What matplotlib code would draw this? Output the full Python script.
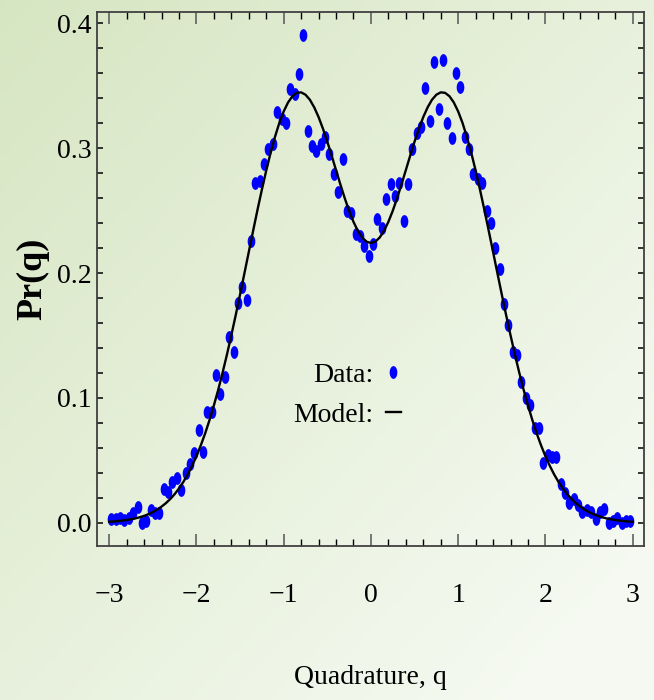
import numpy as np
import matplotlib
matplotlib.use("Agg")
import matplotlib.pyplot as plt
from matplotlib.path import Path
from matplotlib.ticker import MultipleLocator

plt.rcParams['font.family'] = ['Liberation Serif', 'DejaVu Serif']

# measured quadrature histogram (bin centres, width 0.05)
q_data = np.linspace(-2.975, 2.975, 120)
pr_data = [
    0.003, 0.003, 0.004, 0.002, 0.004, 0.0075, 0.0128, 0.000, 0.0015, 0.0105,
    0.0075, 0.0075, 0.027, 0.025, 0.033, 0.0355, 0.026, 0.040, 0.047, 0.056,
    0.074, 0.057, 0.089, 0.089, 0.118, 0.103, 0.117, 0.149, 0.137, 0.176,
    0.189, 0.178, 0.226, 0.272, 0.274, 0.287, 0.299, 0.303, 0.329, 0.323,
    0.320, 0.347, 0.343, 0.359, 0.391, 0.314, 0.302, 0.298, 0.303, 0.309,
    0.295, 0.279, 0.265, 0.291, 0.250, 0.248, 0.231, 0.230, 0.222, 0.214,
    0.223, 0.243, 0.236, 0.259, 0.271, 0.262, 0.272, 0.242, 0.271, 0.299,
    0.312, 0.317, 0.348, 0.322, 0.369, 0.331, 0.371, 0.320, 0.308, 0.360,
    0.349, 0.309, 0.299, 0.279, 0.275, 0.272, 0.250, 0.240, 0.220, 0.203,
    0.175, 0.158, 0.137, 0.134, 0.113, 0.100, 0.094, 0.076, 0.076, 0.048,
    0.054, 0.053, 0.053, 0.031, 0.024, 0.016, 0.019, 0.014, 0.009, 0.010,
    0.009, 0.003, 0.009, 0.011, 0.000, 0.001, 0.0035, 0.000, 0.001, 0.001,
]

# model curve, read every 0.05
q_model = np.linspace(-3, 3, 121)
pr_model_half = [
    0.2240, 0.2251, 0.2284, 0.2338, 0.2410, 0.2498, 0.2599, 0.2709, 0.2824, 0.2940,
    0.3052, 0.3156, 0.3249, 0.3327, 0.3388, 0.3428, 0.3447, 0.3443, 0.3416, 0.3366,
    0.3294, 0.3202, 0.3090, 0.2963, 0.2821, 0.2668, 0.2507, 0.2339, 0.2169, 0.1998,
    0.1828, 0.1662, 0.1502, 0.1348, 0.1203, 0.1066, 0.0940, 0.0823, 0.0716, 0.0620,
    0.0533, 0.0456, 0.0387, 0.0327, 0.0275, 0.0229, 0.0190, 0.0157, 0.0129, 0.0105,
    0.0085, 0.0069, 0.0055, 0.0044, 0.0035, 0.0028, 0.0022, 0.0017, 0.0013, 0.0010,
    0.0008,
]
# the model is symmetric in q
pr_model = pr_model_half[:0:-1] + pr_model_half

fig = plt.figure(figsize=(6.54, 7.0), dpi=100)

# soft green background wash
bg = fig.add_axes([0, 0, 1, 1], zorder=-10)
yy, xx = np.mgrid[0:1:200j, 0:1:200j]
t = np.clip(0.55 * xx + 0.55 * yy, 0, 1)[..., None]
c0 = np.array([0.84, 0.90, 0.76])
c1 = np.array([0.965, 0.98, 0.95])
bg.imshow(c0 + (c1 - c0) * t, aspect='auto', extent=[0, 1, 0, 1], origin='upper')
bg.axis('off')

ax = fig.add_axes([0.1483, 0.2204, 0.8364, 0.7629])
ax.patch.set_alpha(0)

theta = np.linspace(0, 2 * np.pi, 41)
ell = Path(np.column_stack([0.6 * np.cos(theta), np.sin(theta)]), closed=True)

ax.plot(q_data, pr_data, ls='none', marker=ell, ms=9.2, mfc='#0000ff', mec='none',
        label='Data:', zorder=2)
ax.plot(q_model, pr_model, color='black', lw=1.7, label='Model:', zorder=3)

ax.set_xlim(-3.14, 3.13)
ax.set_ylim(-0.0184, 0.4093)

ax.xaxis.set_major_locator(MultipleLocator(1))
ax.xaxis.set_minor_locator(MultipleLocator(0.2))
ax.yaxis.set_major_locator(MultipleLocator(0.1))
ax.yaxis.set_minor_locator(MultipleLocator(0.02))

ax.tick_params(which='both', direction='in', top=True, right=True, labelsize=20)
ax.tick_params(axis='x', which='major', length=8.5, width=1.1, color='#555555', pad=26.5)
ax.tick_params(axis='x', which='minor', length=5, width=1)
ax.tick_params(axis='y', which='both', length=4.5, width=1.1, pad=3.6)

for s in ax.spines.values():
    s.set_color('#404040')
    s.set_linewidth(1.3)

ax.set_xlabel('Quadrature, q', fontsize=20)
ax.xaxis.set_label_coords(0.5, -0.246)
ax.xaxis.label.set_verticalalignment('center')

ax.set_ylabel('Pr(q)', fontsize=26, fontweight='bold')
ax.yaxis.set_label_coords(-0.117, 0.5)
ax.yaxis.label.set_verticalalignment('center')

ax.legend(loc='center right', bbox_to_anchor=(0.556, 0.282), frameon=False,
          markerfirst=False, handlelength=0.55, handletextpad=0.45,
          labelspacing=0.5, numpoints=1, fontsize=20, borderpad=0,
          borderaxespad=0)

fig.savefig('out.png', dpi=100)
